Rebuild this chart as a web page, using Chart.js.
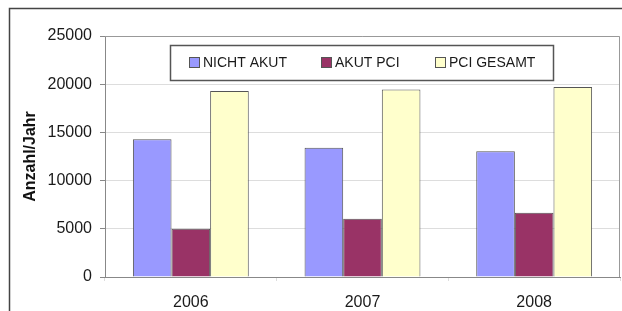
<!DOCTYPE html>
<html lang="de">
<head>
<meta charset="UTF-8">
<title>Anzahl/Jahr</title>
<script src="https://cdn.jsdelivr.net/npm/chart.js"></script>
<style>
  html, body { margin: 0; padding: 0; background: #fff; }
  #wrap { width: 622px; height: 311px; }
</style>
</head>
<body>
<div id="wrap"><canvas id="chart" width="622" height="311"></canvas></div>
<script>
// Daten
const years = ['2006', '2007', '2008'];
const nichtAkut = [14300, 13400, 13050];
const akutPci = [5000, 6040, 6660];
const pciGesamt = [19300, 19450, 19720];
const seriesNames = ['NICHT AKUT', 'AKUT PCI', 'PCI GESAMT'];
const yTicks = [0, 5000, 10000, 15000, 20000, 25000];

const colors = ['#9999ff', '#993366', '#ffffcc'];
const font = 'Liberation Sans, Arial, sans-serif';

// Rahmen, Legende im Diagramm
const frame = {
  id: 'frame',
  afterDraw(chart) {
    const ctx = chart.ctx;
    const a = chart.chartArea;
    ctx.save();
    // Außenrahmen
    ctx.strokeStyle = '#444';
    ctx.lineWidth = 1.5;
    ctx.beginPath();
    ctx.moveTo(9.5, 311);
    ctx.lineTo(9.5, 8.5);
    ctx.lineTo(622, 8.5);
    ctx.stroke();
    // Plotbereich oben / rechts
    ctx.strokeStyle = '#999';
    ctx.lineWidth = 1;
    ctx.beginPath();
    ctx.moveTo(a.left, a.top + 0.5);
    ctx.lineTo(a.right - 0.5, a.top + 0.5);
    ctx.lineTo(a.right - 0.5, a.bottom);
    ctx.stroke();
    // Legende
    ctx.fillStyle = '#fff';
    ctx.fillRect(170, 45, 383, 35);
    ctx.strokeStyle = '#555';
    ctx.lineWidth = 1.5;
    ctx.strokeRect(170.5, 45.5, 383, 35);
    const xs = [189, 321, 435];
    ctx.font = '14px ' + font;
    ctx.textBaseline = 'middle';
    chart.data.datasets.forEach((ds, i) => {
      ctx.fillStyle = ds.backgroundColor;
      ctx.fillRect(xs[i], 57, 10, 10);
      ctx.strokeStyle = '#555';
      ctx.lineWidth = 1;
      ctx.strokeRect(xs[i] + 0.5, 57.5, 10, 10);
      ctx.fillStyle = '#1a1a1a';
      ctx.fillText(ds.label, xs[i] + 14, 63);
    });
    ctx.restore();
  }
};

const ctx = document.getElementById('chart').getContext('2d');
new Chart(ctx, {
  type: 'bar',
  data: {
    labels: years,
    datasets: [nichtAkut, akutPci, pciGesamt].map((d, i) => ({
      label: seriesNames[i],
      data: d,
      backgroundColor: colors[i],
      borderColor: '#555',
      borderWidth: 1,
      categoryPercentage: 0.675,
      barPercentage: 1
    }))
  },
  options: {
    responsive: false,
    animation: false,
    layout: { padding: { left: 0, top: 36, right: 2, bottom: 0 } },
    plugins: {
      legend: { display: false },
      tooltip: { enabled: false }
    },
    scales: {
      x: {
        afterFit: s => { s.height = 34; },
        grid: { display: true, offset: true, drawOnChartArea: false, tickLength: 4, tickColor: '#ddd' },
        border: { color: '#888', width: 1 },
        ticks: { color: '#1a1a1a', padding: 12, font: { family: font, size: 16 } }
      },
      y: {
        min: 0,
        max: 25000,
        afterFit: s => { s.width = 105; },
        afterBuildTicks: s => { s.ticks = yTicks.map(v => ({ value: v })); },
        grid: { color: '#ddd', tickLength: 5, tickColor: '#888' },
        border: { color: '#888', width: 1 },
        ticks: {
          color: '#1a1a1a',
          padding: 8,
          font: { family: font, size: 16 },
          callback: v => String(v)
        },
        title: {
          display: true,
          text: 'Anzahl/Jahr',
          color: '#111',
          padding: { top: 21, bottom: 0 },
          font: { family: font, size: 16, weight: 'bold' }
        }
      }
    }
  },
  plugins: [frame]
});
</script>
</body>
</html>
